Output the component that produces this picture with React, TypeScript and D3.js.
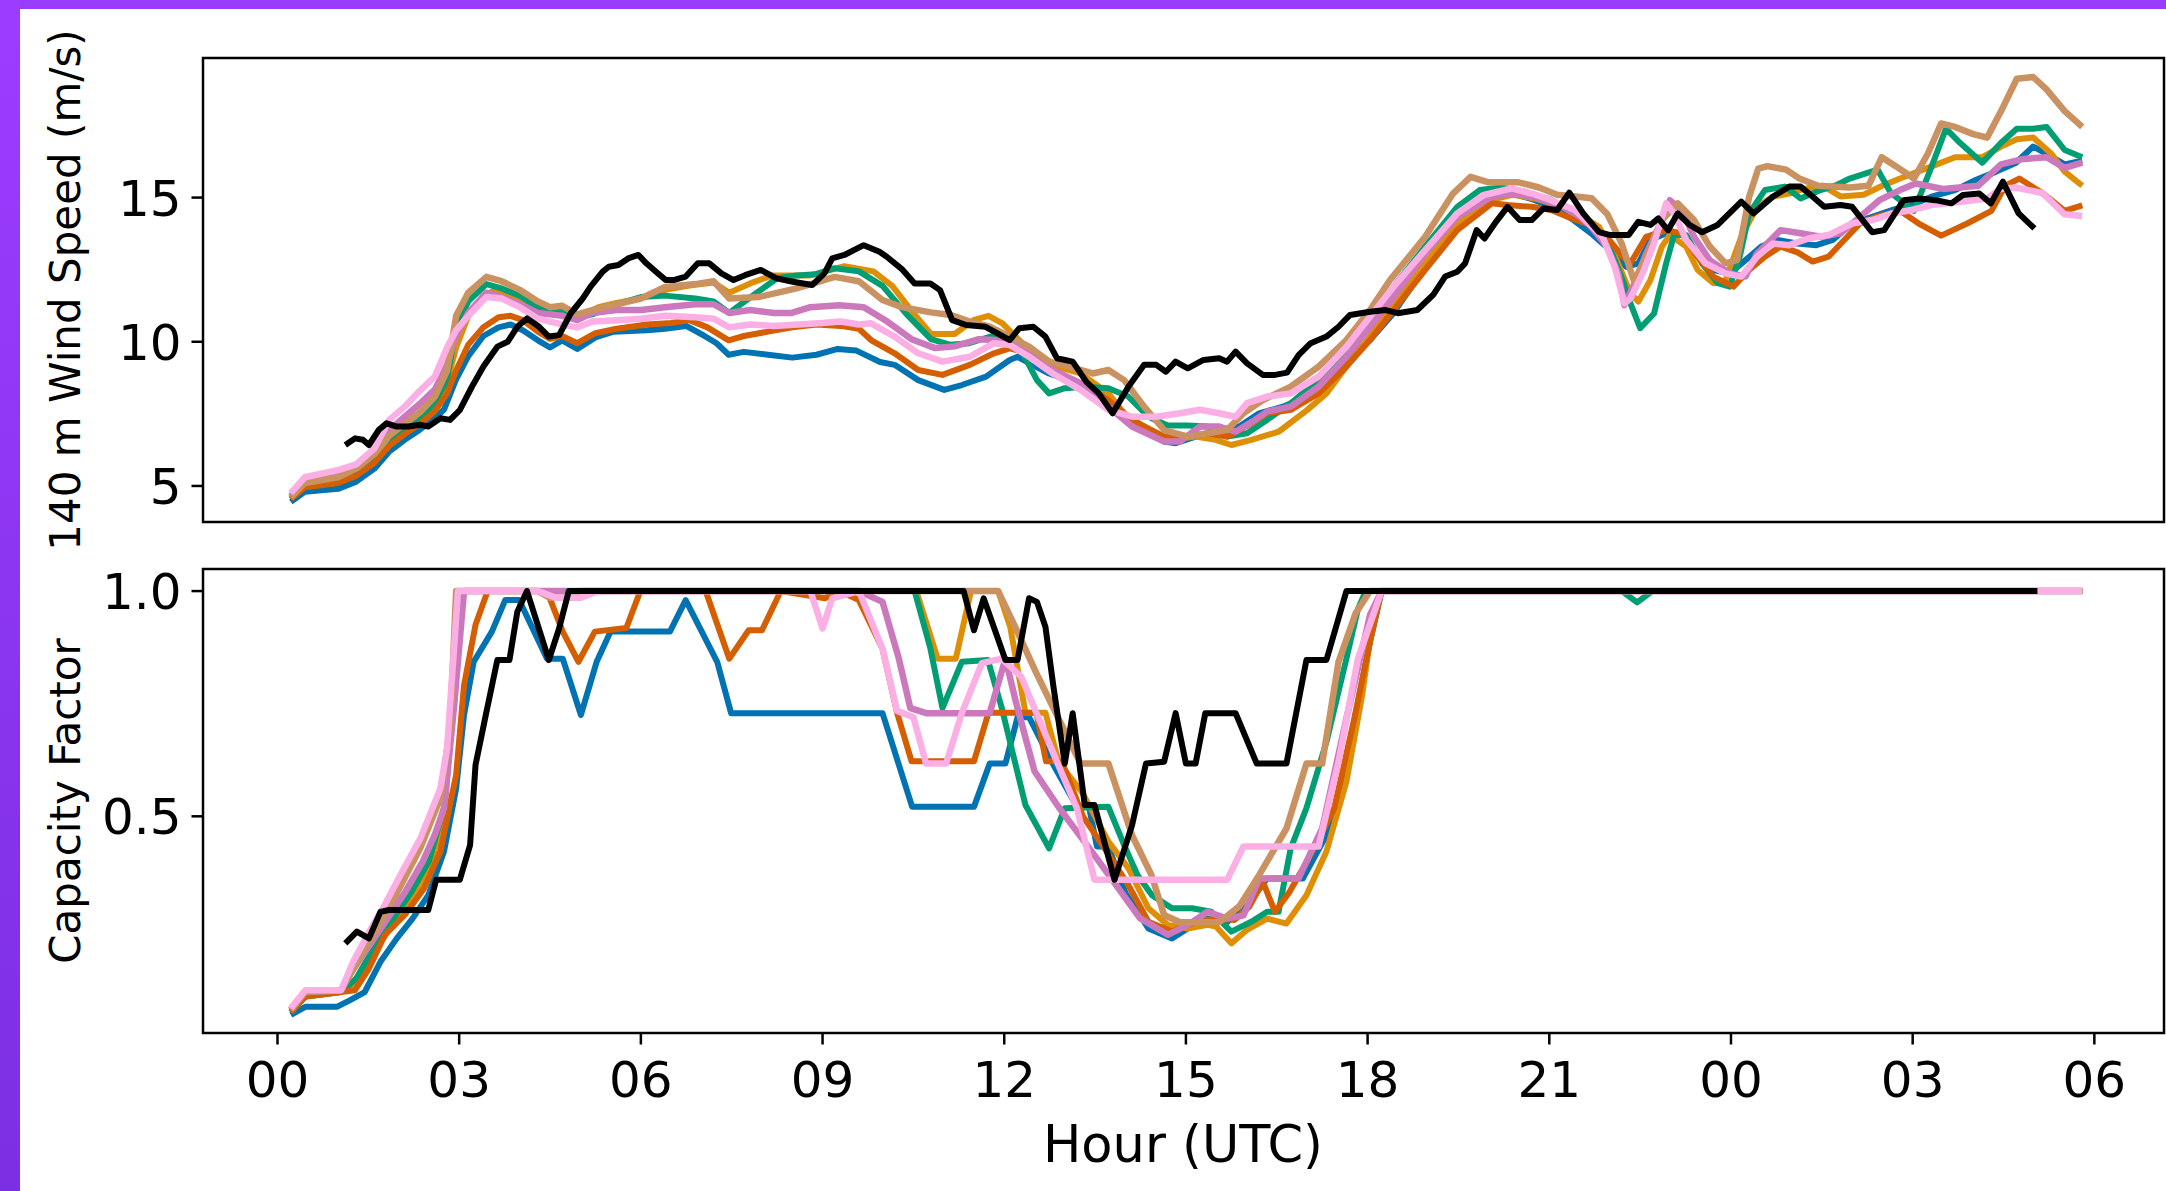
import React from "react";
import * as d3 from "d3";

const W = 2166;
const H = 1191;

// ---------- axis ticks ----------
const hourTicks = [0, 3, 6, 9, 12, 15, 18, 21, 24, 27, 30];
const hourTickLabels = ["00", "03", "06", "09", "12", "15", "18", "21", "00", "03", "06"];
const windTicks = [5, 10, 15];
const windTickLabels = ["5", "10", "15"];
const cfTicks = [0.5, 1.0];
const cfTickLabels = ["0.5", "1.0"];

// ---------- series (hour since 00 UTC, value) ----------
const windObs = [[1.12,6.42],[1.28,6.65],[1.41,6.6],[1.51,6.42],[1.67,6.94],[1.8,7.17],[1.97,7.06],[2.16,7.06],[2.36,7.12],[2.49,7.06],[2.69,7.35],[2.85,7.29],[3.01,7.63],[3.21,8.44],[3.4,9.14],[3.63,9.83],[3.8,10.0],[3.96,10.52],[4.12,10.81],[4.32,10.52],[4.48,10.18],[4.65,10.23],[4.84,10.98],[5.04,11.5],[5.17,11.91],[5.37,12.43],[5.47,12.6],[5.63,12.66],[5.79,12.89],[5.96,13.01],[6.09,12.72],[6.25,12.43],[6.41,12.14],[6.54,12.14],[6.74,12.26],[6.94,12.72],[7.13,12.72],[7.33,12.37],[7.53,12.14],[7.72,12.31],[7.98,12.49],[8.24,12.2],[8.51,12.08],[8.83,11.97],[9.03,12.37],[9.16,12.89],[9.36,13.01],[9.68,13.35],[9.94,13.12],[10.06,12.95],[10.32,12.5],[10.52,12.02],[10.78,12.02],[10.94,11.79],[11.14,10.75],[11.37,10.58],[11.69,10.52],[11.89,10.29],[12.09,10.06],[12.25,10.47],[12.48,10.52],[12.68,10.18],[12.87,9.43],[13.13,9.31],[13.36,8.6],[13.56,8.21],[13.79,7.52],[14.05,8.44],[14.31,9.2],[14.51,9.2],[14.67,8.96],[14.83,9.31],[15.03,9.08],[15.29,9.37],[15.55,9.43],[15.68,9.31],[15.82,9.66],[16.01,9.25],[16.27,8.85],[16.47,8.85],[16.67,8.93],[16.86,9.54],[17.06,9.95],[17.32,10.18],[17.52,10.52],[17.71,10.93],[18.04,11.04],[18.3,11.1],[18.5,10.99],[18.82,11.1],[19.08,11.62],[19.28,12.26],[19.48,12.43],[19.61,12.72],[19.8,13.87],[19.93,13.58],[20.12,14.16],[20.31,14.68],[20.51,14.22],[20.71,14.22],[20.9,14.62],[21.13,14.57],[21.33,15.17],[21.56,14.45],[21.82,13.8],[22.01,13.7],[22.31,13.7],[22.47,14.16],[22.67,14.05],[22.8,14.28],[22.96,13.87],[23.12,14.45],[23.32,14.05],[23.52,13.8],[23.78,14.05],[24.17,14.86],[24.37,14.45],[24.69,15.03],[24.96,15.38],[25.15,15.38],[25.35,15.03],[25.54,14.68],[25.81,14.74],[26.0,14.68],[26.33,13.8],[26.53,13.87],[26.85,14.91],[27.11,14.97],[27.38,14.91],[27.64,14.8],[27.83,15.09],[28.1,15.14],[28.29,14.8],[28.49,15.55],[28.75,14.45],[29.01,13.93]];

const windBlue = [[0.22,4.45],[0.45,4.8],[1.0,4.9],[1.3,5.15],[1.6,5.6],[1.85,6.2],[2.1,6.6],[2.35,6.95],[2.6,7.35],[2.75,7.65],[2.95,8.7],[3.15,9.5],[3.4,10.2],[3.65,10.5],[3.85,10.6],[4.05,10.4],[4.3,10.05],[4.5,9.8],[4.7,10.05],[4.95,9.75],[5.25,10.15],[5.55,10.35],[6.1,10.4],[6.4,10.45],[6.75,10.55],[7.05,10.2],[7.25,9.95],[7.45,9.55],[7.7,9.65],[8.1,9.55],[8.5,9.45],[8.9,9.55],[9.25,9.75],[9.55,9.7],[9.95,9.3],[10.19,9.2],[10.58,8.67],[11.01,8.33],[11.3,8.5],[11.7,8.79],[12.09,9.37],[12.22,9.48],[12.74,8.9],[13.2,8.56],[13.59,8.21],[13.85,7.52],[14.25,7.06],[14.64,6.54],[14.83,6.48],[15.16,6.71],[15.55,6.94],[15.88,7.06],[16.21,7.52],[16.6,7.75],[17.0,8.1],[17.52,9.14],[18.04,10.06],[18.43,11.0],[18.95,12.6],[19.48,14.0],[20.05,15.0],[20.38,15.14],[20.71,14.95],[21.03,14.68],[21.36,14.28],[21.69,13.76],[21.88,13.41],[22.08,13.06],[22.27,12.6],[22.47,12.72],[22.67,13.53],[22.93,13.76],[23.19,13.76],[23.45,12.95],[23.71,12.49],[23.98,12.37],[24.24,12.83],[24.5,13.3],[24.76,13.53],[25.09,13.41],[25.41,13.35],[25.68,13.53],[26.0,14.1],[26.33,14.33],[26.66,14.57],[26.98,14.74],[27.31,15.03],[27.7,15.26],[28.03,15.6],[28.38,15.9],[28.7,16.2],[28.99,16.77],[29.21,16.52],[29.51,16.15],[29.8,16.28]];

const windOrange = [[0.22,4.55],[0.45,5.05],[1.0,5.25],[1.3,5.5],[1.6,6.0],[1.85,6.6],[2.1,7.0],[2.35,7.35],[2.6,7.85],[2.8,8.6],[2.95,9.8],[3.15,10.9],[3.4,11.6],[3.6,11.8],[3.85,11.6],[4.1,11.3],[4.4,11.0],[4.7,11.1],[5.0,10.9],[5.3,11.2],[5.6,11.35],[6.0,11.5],[6.4,11.8],[6.8,11.95],[7.2,12.05],[7.46,11.7],[7.86,12.07],[8.17,12.3],[8.8,12.3],[9.36,12.62],[9.84,12.44],[10.15,11.94],[10.47,11.07],[10.79,10.27],[11.18,10.27],[11.5,10.76],[11.74,10.9],[11.97,10.64],[12.29,9.96],[12.87,9.14],[13.26,8.9],[13.72,8.21],[13.98,7.52],[14.38,6.94],[14.77,6.6],[15.16,6.71],[15.49,6.6],[15.75,6.42],[16.08,6.6],[16.53,6.88],[17.0,7.63],[17.32,8.21],[17.65,9.14],[18.04,10.18],[18.37,11.22],[18.95,12.72],[19.48,14.1],[20.0,14.9],[20.4,15.1],[20.8,14.95],[21.2,14.7],[21.5,14.4],[21.82,13.99],[22.1,12.9],[22.34,11.68],[22.47,11.39],[22.67,12.14],[22.86,13.3],[22.99,13.7],[23.26,13.3],[23.45,12.49],[23.71,12.03],[23.91,12.14],[24.17,13.64],[24.43,14.68],[24.69,15.03],[24.96,15.14],[25.2,15.3],[25.51,15.41],[25.81,15.04],[26.19,15.1],[26.49,15.4],[26.79,15.66],[27.4,16.15],[27.7,16.4],[28.15,16.4],[28.46,16.77],[28.72,17.02],[28.99,17.08],[29.29,16.52],[29.51,15.9],[29.8,15.41]];

const windGreen = [[0.22,4.55],[0.45,5.0],[1.0,5.2],[1.3,5.45],[1.6,5.95],[1.85,6.55],[2.1,6.95],[2.35,7.35],[2.6,7.9],[2.8,8.7],[2.95,10.5],[3.15,11.4],[3.45,12.0],[3.7,11.85],[4.0,11.6],[4.3,11.2],[4.5,11.0],[4.7,11.05],[4.95,10.85],[5.2,10.95],[5.6,11.3],[6.0,11.55],[6.4,11.6],[6.9,11.5],[7.2,11.4],[7.46,11.0],[7.78,11.5],[8.25,12.2],[8.57,12.3],[8.89,12.34],[9.2,12.55],[9.6,12.44],[9.99,11.94],[10.39,10.95],[10.79,10.09],[11.1,9.9],[11.42,9.95],[11.8,10.2],[12.09,10.18],[12.28,9.71],[12.54,8.67],[12.74,8.21],[13.0,8.39],[13.33,8.44],[13.72,8.39],[14.05,8.1],[14.38,7.4],[14.7,7.1],[15.03,7.1],[15.36,7.06],[15.68,6.71],[16.01,6.83],[16.34,7.29],[16.73,7.87],[17.19,8.67],[17.65,9.71],[18.04,10.75],[18.43,11.91],[18.95,13.3],[19.48,14.68],[19.85,15.26],[20.2,15.35],[20.6,15.2],[21.0,14.95],[21.4,14.5],[21.69,14.1],[21.95,13.53],[22.21,12.14],[22.34,11.33],[22.5,10.47],[22.73,10.98],[22.93,12.72],[23.06,13.7],[23.26,13.7],[23.52,12.72],[23.78,12.03],[23.98,11.91],[24.15,13.0],[24.3,14.45],[24.56,15.26],[24.89,15.38],[25.15,14.97],[25.48,15.26],[25.74,15.43],[25.96,15.66],[26.42,15.97],[26.64,15.16],[27.02,14.54],[27.3,16.0],[27.55,17.39],[27.78,16.9],[28.15,16.21],[28.46,16.9],[28.72,17.39],[28.99,17.39],[29.21,17.45],[29.51,16.65],[29.8,16.4]];

const windVermilion = [[0.22,4.55],[0.45,4.95],[1.0,5.1],[1.3,5.35],[1.6,5.8],[1.85,6.4],[2.1,6.8],[2.35,7.15],[2.6,7.6],[2.8,8.2],[2.95,9.0],[3.15,9.9],[3.4,10.5],[3.65,10.85],[3.85,10.9],[4.05,10.75],[4.3,10.35],[4.5,10.1],[4.7,10.2],[4.95,9.95],[5.25,10.3],[5.6,10.45],[6.1,10.6],[6.5,10.65],[6.8,10.75],[7.1,10.5],[7.45,10.05],[7.7,10.2],[8.1,10.35],[8.5,10.5],[8.9,10.6],[9.3,10.55],[9.6,10.45],[9.8,10.06],[10.19,9.6],[10.58,9.02],[10.98,8.85],[11.43,9.2],[11.83,9.6],[12.09,9.77],[12.41,9.6],[12.8,8.96],[13.26,8.5],[13.72,7.98],[14.11,7.29],[14.64,6.71],[15.03,6.71],[15.36,6.83],[15.68,6.71],[16.08,7.17],[16.34,7.52],[16.73,7.64],[17.19,8.21],[17.65,9.14],[18.04,10.06],[18.43,11.1],[18.95,12.49],[19.48,13.87],[20.05,14.8],[20.31,14.74],[20.71,14.68],[21.03,14.57],[21.36,14.28],[21.69,14.05],[21.95,13.64],[22.21,12.95],[22.34,12.72],[22.6,13.64],[22.93,13.87],[23.19,13.76],[23.45,12.95],[23.71,12.26],[24.04,11.91],[24.3,12.49],[24.56,12.95],[24.82,13.3],[25.1,13.1],[25.35,12.78],[25.61,12.95],[25.87,13.53],[26.13,14.1],[26.39,14.33],[26.79,14.54],[27.1,14.1],[27.47,13.68],[27.9,14.1],[28.3,14.54],[28.53,15.41],[28.76,15.66],[29.14,15.16],[29.51,14.54],[29.8,14.73]];

const windLilac = [[0.22,4.65],[0.45,5.2],[1.0,5.45],[1.3,5.65],[1.6,6.15],[1.85,6.95],[2.1,7.4],[2.35,7.85],[2.6,8.35],[2.8,9.2],[2.95,10.2],[3.15,11.0],[3.45,11.7],[3.7,11.55],[4.0,11.3],[4.3,11.0],[4.5,10.95],[4.7,10.9],[4.95,10.75],[5.2,11.0],[5.6,11.1],[6.0,11.1],[6.4,11.2],[6.9,11.3],[7.2,11.3],[7.46,11.0],[7.8,11.1],[8.2,11.0],[8.49,11.0],[8.8,11.2],[9.28,11.27],[9.68,11.2],[10.07,10.7],[10.47,10.09],[10.86,9.78],[11.18,9.84],[11.58,10.09],[11.83,10.06],[12.09,9.95],[12.41,9.6],[12.8,9.02],[13.26,8.56],[13.72,7.75],[14.11,7.06],[14.64,6.54],[14.9,6.54],[15.23,7.06],[15.55,7.06],[15.82,6.88],[16.14,7.29],[16.34,7.58],[16.73,7.75],[17.19,8.44],[17.65,9.48],[18.04,10.52],[18.43,11.56],[18.95,13.06],[19.48,14.33],[20.05,15.03],[20.4,15.15],[20.8,15.0],[21.2,14.7],[21.5,14.35],[21.69,13.99],[21.95,13.3],[22.14,12.37],[22.24,11.27],[22.41,12.03],[22.6,13.06],[22.86,14.22],[22.99,14.91],[23.19,14.57],[23.39,13.64],[23.65,12.83],[23.98,12.37],[24.24,12.26],[24.43,13.06],[24.82,13.87],[25.15,13.76],[25.48,13.64],[25.81,13.76],[26.13,14.33],[26.45,14.91],[26.79,15.26],[27.05,15.49],[27.5,15.3],[28.08,15.41],[28.46,16.15],[28.83,16.34],[29.21,16.4],[29.51,16.03],[29.8,16.21]];

const windBrown = [[0.22,4.6],[0.45,5.1],[1.0,5.3],[1.3,5.6],[1.6,6.1],[1.85,6.75],[2.1,7.15],[2.35,7.55],[2.6,8.1],[2.8,9.0],[2.95,10.9],[3.15,11.7],[3.45,12.25],[3.7,12.1],[4.0,11.8],[4.3,11.4],[4.5,11.2],[4.7,11.25],[4.95,10.95],[5.2,11.1],[5.6,11.3],[6.0,11.5],[6.4,11.9],[6.9,12.0],[7.2,12.1],[7.46,11.5],[7.94,11.55],[8.57,11.85],[9.2,12.25],[9.6,12.1],[9.99,11.45],[10.31,11.2],[10.79,11.02],[11.11,10.93],[11.43,10.7],[11.76,10.52],[12.09,10.18],[12.41,9.83],[12.74,9.31],[13.07,9.14],[13.46,8.9],[13.72,9.02],[13.98,8.67],[14.31,7.75],[14.64,6.94],[15.03,6.71],[15.36,6.83],[15.68,6.94],[15.95,7.52],[16.27,7.98],[16.73,8.44],[17.19,9.14],[17.65,10.06],[18.04,11.1],[18.37,12.14],[18.95,13.64],[19.41,15.14],[19.7,15.72],[20.0,15.53],[20.49,15.53],[20.83,15.35],[21.13,15.1],[21.43,15.04],[21.7,14.98],[21.96,14.42],[22.19,13.43],[22.4,12.1],[22.6,12.95],[22.86,14.22],[23.12,14.8],[23.39,14.22],[23.65,13.3],[23.91,12.72],[24.1,12.83],[24.3,15.03],[24.45,16.0],[24.6,16.09],[24.91,15.97],[25.13,15.66],[25.44,15.41],[25.96,15.35],[26.27,15.41],[26.49,16.4],[26.72,16.09],[27.02,15.66],[27.25,16.52],[27.47,17.57],[27.7,17.45],[28.0,17.2],[28.23,17.08],[28.46,18.0],[28.72,19.12],[28.99,19.18],[29.21,18.75],[29.51,18.0],[29.8,17.45]];

const windPink = [[0.22,4.75],[0.45,5.3],[1.0,5.55],[1.3,5.75],[1.6,6.3],[1.85,7.3],[2.1,7.75],[2.35,8.3],[2.6,8.8],[2.8,9.8],[2.95,10.4],[3.15,10.9],[3.45,11.55],[3.7,11.5],[4.0,11.2],[4.3,10.8],[4.5,10.7],[4.7,10.6],[4.95,10.5],[5.2,10.7],[5.6,10.75],[6.0,10.8],[6.4,10.9],[6.9,10.85],[7.2,10.8],[7.46,10.5],[7.8,10.6],[8.2,10.55],[8.6,10.6],[9.0,10.65],[9.3,10.7],[9.6,10.6],[9.8,10.64],[10.19,10.18],[10.58,9.6],[10.98,9.31],[11.43,9.48],[11.83,9.95],[12.09,9.89],[12.41,9.48],[12.8,8.9],[13.26,8.33],[13.72,7.64],[14.11,7.4],[14.51,7.4],[14.9,7.52],[15.23,7.64],[15.55,7.52],[15.82,7.4],[16.01,7.87],[16.34,8.1],[16.73,8.21],[17.19,8.79],[17.65,9.83],[18.04,10.87],[18.43,11.91],[18.95,13.18],[19.48,14.45],[19.92,15.09],[20.38,15.32],[20.71,15.14],[21.03,14.91],[21.42,14.57],[21.88,13.64],[22.08,12.6],[22.24,11.33],[22.34,11.5],[22.54,12.37],[22.73,13.41],[22.93,14.8],[23.06,14.45],[23.26,13.53],[23.58,12.72],[23.91,12.37],[24.17,12.26],[24.43,12.95],[24.69,13.41],[24.96,13.35],[25.28,13.58],[25.61,13.7],[26.0,14.1],[26.33,14.22],[26.66,14.45],[26.98,14.57],[27.31,14.74],[27.83,14.86],[28.23,14.97],[28.45,15.3],[28.7,15.35],[29.14,15.16],[29.51,14.42],[29.8,14.36]];

const cfObs = [[1.12,0.218],[1.31,0.244],[1.51,0.229],[1.7,0.288],[1.84,0.292],[2.49,0.292],[2.62,0.359],[3.01,0.359],[3.18,0.436],[3.27,0.614],[3.44,0.725],[3.63,0.847],[3.83,0.847],[3.96,0.954],[4.12,1.0],[4.48,0.847],[4.65,0.917],[4.81,1.0],[11.33,1.0],[11.5,0.913],[11.66,0.984],[12.02,0.847],[12.22,0.847],[12.41,0.984],[12.54,0.976],[12.68,0.921],[12.81,0.79],[13.0,0.617],[13.13,0.729],[13.33,0.525],[13.49,0.525],[13.82,0.359],[14.11,0.48],[14.34,0.617],[14.64,0.621],[14.83,0.729],[15.0,0.617],[15.16,0.617],[15.32,0.729],[15.82,0.729],[16.17,0.617],[16.66,0.617],[16.99,0.847],[17.32,0.847],[17.65,1.0],[29.06,1.0]];

const cfBlue = [[0.22,0.059],[0.46,0.077],[0.98,0.077],[1.2,0.092],[1.44,0.11],[1.7,0.177],[1.97,0.229],[2.23,0.273],[2.49,0.325],[2.75,0.422],[2.95,0.562],[3.08,0.725],[3.24,0.843],[3.54,0.91],[3.76,0.98],[3.99,0.98],[4.45,0.85],[4.71,0.85],[5.01,0.725],[5.27,0.843],[5.5,0.91],[6.48,0.91],[6.74,0.98],[7.26,0.843],[7.49,0.729],[9.99,0.729],[10.48,0.521],[11.5,0.521],[11.76,0.617],[12.02,0.617],[12.22,0.72],[12.41,0.72],[12.8,0.617],[13.2,0.521],[13.4,0.521],[13.53,0.433],[13.72,0.433],[14.0,0.33],[14.38,0.251],[14.77,0.229],[15.03,0.251],[15.36,0.273],[15.68,0.265],[16.0,0.3],[16.34,0.362],[16.93,0.362],[17.38,0.473],[17.71,0.666],[18.04,0.888],[18.23,1.0],[29.8,1.0]];

const cfOrange = [[0.22,0.065],[0.46,0.1],[1.05,0.11],[1.3,0.13],[1.6,0.2],[1.9,0.26],[2.2,0.31],[2.5,0.38],[2.75,0.5],[2.9,0.75],[3.05,1.0],[10.55,1.0],[10.9,0.85],[11.2,0.85],[11.45,1.0],[11.9,1.0],[12.1,0.92],[12.35,0.73],[12.68,0.73],[12.9,0.62],[13.3,0.55],[13.72,0.444],[14.05,0.385],[14.38,0.296],[14.7,0.259],[15.03,0.251],[15.36,0.259],[15.5,0.255],[15.75,0.218],[16.01,0.248],[16.34,0.273],[16.66,0.262],[16.99,0.325],[17.32,0.422],[17.65,0.577],[17.91,0.769],[18.1,0.947],[18.23,1.0],[29.8,1.0]];

const cfGreen = [[0.22,0.065],[0.46,0.1],[1.05,0.11],[1.3,0.14],[1.6,0.21],[1.9,0.27],[2.2,0.33],[2.5,0.4],[2.75,0.52],[2.92,0.8],[3.05,1.0],[10.52,1.0],[10.78,0.873],[10.98,0.74],[11.3,0.843],[11.73,0.847],[11.96,0.74],[12.35,0.525],[12.74,0.429],[13.0,0.518],[13.72,0.521],[13.98,0.436],[14.2,0.37],[14.44,0.325],[14.77,0.296],[15.1,0.296],[15.42,0.288],[15.75,0.244],[16.08,0.266],[16.34,0.288],[16.53,0.288],[16.73,0.429],[16.99,0.518],[17.32,0.665],[17.65,0.85],[17.84,0.96],[17.97,1.0],[22.2,1.0],[22.45,0.975],[22.7,1.0],[29.8,1.0]];

const cfVermilion = [[0.22,0.065],[0.46,0.1],[1.05,0.11],[1.28,0.114],[1.51,0.162],[1.77,0.236],[2.1,0.281],[2.42,0.34],[2.69,0.422],[2.95,0.592],[3.08,0.791],[3.27,0.925],[3.47,1.0],[4.45,1.0],[4.71,0.91],[4.97,0.843],[5.24,0.91],[5.76,0.918],[5.99,1.0],[7.07,1.0],[7.46,0.85],[7.78,0.913],[8.0,0.913],[8.31,1.0],[9.04,0.984],[9.28,1.0],[9.6,0.98],[9.99,0.872],[10.23,0.73],[10.47,0.622],[11.5,0.622],[11.74,0.73],[12.53,0.73],[12.69,0.622],[12.95,0.622],[13.3,0.5],[13.7,0.42],[14.05,0.347],[14.38,0.266],[14.77,0.244],[15.16,0.266],[15.49,0.273],[15.8,0.27],[16.05,0.3],[16.27,0.355],[16.47,0.288],[16.7,0.33],[17.0,0.4],[17.45,0.518],[17.78,0.717],[18.04,0.888],[18.23,1.0],[29.8,1.0]];

const cfLilac = [[0.22,0.07],[0.46,0.11],[1.05,0.114],[1.2,0.15],[1.5,0.21],[1.8,0.27],[2.1,0.33],[2.4,0.4],[2.6,0.46],[2.75,0.518],[2.92,0.75],[3.08,1.0],[9.6,1.0],[9.99,0.976],[10.26,0.85],[10.45,0.74],[10.71,0.729],[11.76,0.729],[12.02,0.85],[12.2,0.75],[12.5,0.6],[12.9,0.52],[13.4,0.43],[13.85,0.347],[14.24,0.274],[14.7,0.237],[15.03,0.259],[15.36,0.288],[15.68,0.273],[15.95,0.28],[16.21,0.362],[16.86,0.362],[17.25,0.473],[17.65,0.717],[18.04,0.947],[18.23,1.0],[29.8,1.0]];

const cfBrown = [[0.22,0.07],[0.46,0.11],[1.05,0.114],[1.25,0.16],[1.5,0.22],[1.77,0.28],[2.03,0.345],[2.36,0.43],[2.69,0.54],[2.85,0.7],[2.95,1.0],[4.3,1.0],[4.5,0.985],[4.8,0.985],[5.0,1.0],[11.9,1.0],[12.13,0.935],[12.53,0.818],[12.85,0.73],[13.26,0.617],[13.72,0.617],[14.11,0.458],[14.43,0.37],[14.64,0.281],[14.9,0.265],[15.55,0.265],[15.88,0.3],[16.21,0.37],[16.66,0.473],[16.99,0.617],[17.25,0.617],[17.52,0.843],[17.8,0.95],[18.04,1.0],[29.8,1.0]];

const cfPink = [[0.22,0.074],[0.46,0.114],[1.05,0.114],[1.25,0.177],[1.5,0.24],[1.77,0.303],[2.03,0.37],[2.36,0.451],[2.69,0.562],[2.8,0.65],[2.98,1.0],[4.3,1.0],[4.6,0.985],[5.0,0.985],[5.3,1.0],[8.8,1.0],[9.0,0.917],[9.16,0.984],[9.6,1.0],[9.99,0.872],[10.23,0.734],[10.5,0.72],[10.71,0.617],[11.04,0.617],[11.3,0.729],[11.63,0.84],[11.96,0.85],[12.28,0.81],[12.87,0.621],[13.2,0.518],[13.49,0.359],[15.68,0.359],[15.95,0.433],[17.19,0.433],[17.52,0.621],[17.84,0.85],[18.23,1.0],[29.8,1.0]];

const modelColors = ["#0173B2", "#DE8F05", "#029E73", "#D55E00", "#CC78BC", "#CA9161", "#FBAFE4"];
const windModels = [windBlue, windOrange, windGreen, windVermilion, windLilac, windBrown, windPink];
const cfModels = [cfBlue, cfOrange, cfGreen, cfVermilion, cfLilac, cfBrown, cfPink];

// ---------- layout ----------
const plotLeft = 203;
const plotRight = 2164;
const topPanel = { y0: 58, y1: 522 };
const botPanel = { y0: 569, y1: 1033 };
const FONT = "'DejaVu Sans', 'Liberation Sans', sans-serif";
const TICK_FS = 50;
const TICK_LEN = 11.5;
const LW = 6;

export default function App() {
  const x = d3.scaleLinear().domain([-1.23, 31.15]).range([plotLeft, plotRight]);
  const yWind = d3.scaleLinear().domain([3.75, 19.84]).range([topPanel.y1, topPanel.y0]);
  const yCF = d3.scaleLinear().domain([0.019, 1.049]).range([botPanel.y1, botPanel.y0]);

  const lineWind = d3.line<number[]>().x((d) => x(d[0])).y((d) => yWind(d[1]));
  const lineCF = d3.line<number[]>().x((d) => x(d[0])).y((d) => yCF(d[1]));

  const frame = (p: { y0: number; y1: number }, key: string) => (
    <rect key={key} x={plotLeft} y={p.y0} width={plotRight - plotLeft} height={p.y1 - p.y0}
      fill="none" stroke="#000" strokeWidth={2.5} />
  );

  return (
    <div style={{ position: "absolute", left: 0, top: 0 }}>
      <svg width={W} height={H} viewBox={`0 0 ${W} ${H}`} style={{ display: "block" }}>
        <defs>
          <linearGradient id="purpleLeft" x1="0" y1="0" x2="0" y2="1">
            <stop offset="0" stopColor="#9c3cff" />
            <stop offset="1" stopColor="#7b2fe2" />
          </linearGradient>
          <clipPath id="clipTop">
            <rect x={plotLeft} y={topPanel.y0} width={plotRight - plotLeft} height={topPanel.y1 - topPanel.y0} />
          </clipPath>
          <clipPath id="clipBot">
            <rect x={plotLeft} y={botPanel.y0} width={plotRight - plotLeft} height={botPanel.y1 - botPanel.y0} />
          </clipPath>
        </defs>
        <rect x={0} y={0} width={W} height={H} fill="#fff" />
        <rect x={0} y={0} width={W} height={9} fill="#9a3cfd" />
        <rect x={0} y={0} width={20} height={H} fill="url(#purpleLeft)" />

        {/* top panel lines */}
        <g clipPath="url(#clipTop)" fill="none" strokeLinejoin="round" strokeLinecap="butt">
          {windModels.map((s, i) => (
            <path key={"w" + i} d={lineWind(s) || ""} stroke={modelColors[i]} strokeWidth={i >= 4 ? LW + 0.5 : LW} />
          ))}
          <path d={lineWind(windObs) || ""} stroke="#000" strokeWidth={LW} />
        </g>

        {/* bottom panel lines */}
        <g clipPath="url(#clipBot)" fill="none" strokeLinejoin="round" strokeLinecap="butt">
          {cfModels.map((s, i) => (
            <path key={"c" + i} d={lineCF(s) || ""} stroke={modelColors[i]} strokeWidth={i >= 4 ? LW + 0.5 : LW} />
          ))}
          <path d={lineCF(cfObs) || ""} stroke="#000" strokeWidth={LW} />
        </g>

        {frame(topPanel, "ft")}
        {frame(botPanel, "fb")}

        {/* y ticks top */}
        {windTicks.map((t, i) => (
          <g key={"wt" + i}>
            <line x1={plotLeft - TICK_LEN} x2={plotLeft} y1={yWind(t)} y2={yWind(t)} stroke="#000" strokeWidth={2.5} />
            <text x={plotLeft - TICK_LEN - 10} y={yWind(t)} dy="0.36em" textAnchor="end"
              fontFamily={FONT} fontSize={TICK_FS} fill="#000">{windTickLabels[i]}</text>
          </g>
        ))}
        {/* y ticks bottom */}
        {cfTicks.map((t, i) => (
          <g key={"ct" + i}>
            <line x1={plotLeft - TICK_LEN} x2={plotLeft} y1={yCF(t)} y2={yCF(t)} stroke="#000" strokeWidth={2.5} />
            <text x={plotLeft - TICK_LEN - 10} y={yCF(t)} dy="0.36em" textAnchor="end"
              fontFamily={FONT} fontSize={TICK_FS} fill="#000">{cfTickLabels[i]}</text>
          </g>
        ))}
        {/* x ticks bottom */}
        {hourTicks.map((t, i) => (
          <g key={"xt" + i}>
            <line x1={x(t)} x2={x(t)} y1={botPanel.y1} y2={botPanel.y1 + TICK_LEN} stroke="#000" strokeWidth={2.5} />
            <text x={x(t)} y={1097} textAnchor="middle"
              fontFamily={FONT} fontSize={TICK_FS} fill="#000">{hourTickLabels[i]}</text>
          </g>
        ))}

        {/* axis labels */}
        <text x={1183} y={1162} textAnchor="middle" fontFamily={FONT} fontSize={51} fill="#000">Hour (UTC)</text>
        <text transform={`translate(80, ${(topPanel.y0 + topPanel.y1) / 2}) rotate(-90)`} textAnchor="middle"
          fontFamily={FONT} fontSize={42} fill="#000">140 m Wind Speed (m/s)</text>
        <text transform={`translate(80, ${(botPanel.y0 + botPanel.y1) / 2}) rotate(-90)`} textAnchor="middle"
          fontFamily={FONT} fontSize={42} fill="#000">Capacity Factor</text>
      </svg>
    </div>
  );
}
